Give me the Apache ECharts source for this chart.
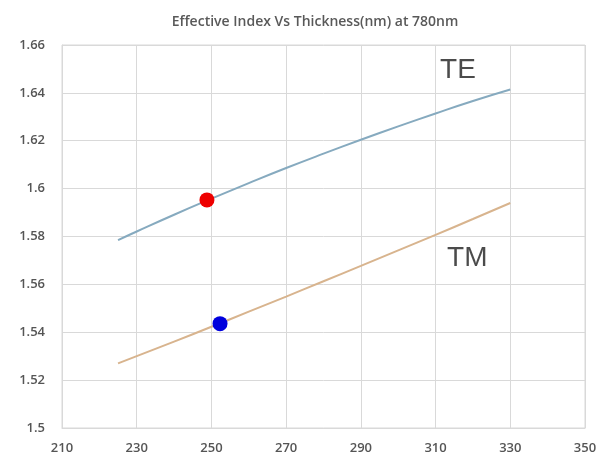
<!DOCTYPE html>
<html>
<head>
<meta charset="utf-8">
<script src="https://cdn.jsdelivr.net/npm/echarts@6/dist/echarts.min.js"></script>
<style>
html,body{margin:0;padding:0;background:#fff;}
#chart{width:602px;height:457px;}
</style>
</head>
<body>
<div id="chart"></div>
<script>
const titleText = "Effective Index Vs Thickness(nm) at 780nm";
const thickness = [225, 230, 240, 250, 260, 270, 280, 290, 300, 310, 320, 330];
const teIndex = [1.5785, 1.5821, 1.5891, 1.5958, 1.6023, 1.6086, 1.6146, 1.6204, 1.626, 1.6314, 1.6366, 1.6414];
const tmIndex = [1.527, 1.530, 1.5361, 1.5423, 1.5486, 1.5549, 1.5613, 1.5677, 1.5742, 1.5807, 1.5873, 1.594];
const teMarker = [248.8, 1.5953];
const tmMarker = [252.3, 1.5436];
const curveLabels = [
  { name: "TE", pos: [316, 1.6495] },
  { name: "TM", pos: [318.5, 1.5708] }
];

const chart = echarts.init(document.getElementById('chart'), null, { renderer: 'canvas' });
const axisFont = { color: '#555555', fontSize: 13, fontFamily: 'Open Sans, Liberation Sans, sans-serif', fontWeight: 600 };

chart.setOption({
  animation: false,
  backgroundColor: '#fff',
  title: {
    text: titleText,
    left: 310, textAlign: 'center',
    top: 10,
    textStyle: { color: '#595959', fontSize: 14, fontWeight: 600, fontFamily: 'Open Sans, Liberation Sans, sans-serif' }
  },
  grid: { left: 62, right: 17, top: 45, bottom: 29, show: true, borderColor: '#d9d9d9', borderWidth: 1 },
  xAxis: {
    type: 'value', min: 210, max: 350, interval: 20,
    axisLine: { show: true, lineStyle: { color: '#d9d9d9' } },
    axisTick: { show: false },
    axisLabel: Object.assign({ margin: 14 }, axisFont),
    splitLine: { show: true, lineStyle: { color: '#d9d9d9' } }
  },
  yAxis: {
    type: 'value', min: 1.5, max: 1.66, interval: 0.02,
    axisLine: { show: true, lineStyle: { color: '#d9d9d9' } },
    axisTick: { show: false },
    axisLabel: Object.assign({ margin: 17, formatter: v => String(+v.toFixed(2)) }, axisFont),
    splitLine: { show: true, lineStyle: { color: '#d9d9d9' } }
  },
  series: [
    {
      name: 'TE', type: 'line', smooth: true, showSymbol: false,
      data: thickness.map((t, i) => [t, teIndex[i]]),
      lineStyle: { color: '#86aabf', width: 2 }
    },
    {
      name: 'TM', type: 'line', smooth: true, showSymbol: false,
      data: thickness.map((t, i) => [t, tmIndex[i]]),
      lineStyle: { color: '#d8b48e', width: 2 }
    },
    {
      type: 'scatter', symbolSize: 15, z: 5,
      data: [
        { value: teMarker, itemStyle: { color: '#ee0000', opacity: 1 } },
        { value: tmMarker, itemStyle: { color: '#0000dd', opacity: 1 } }
      ]
    },
    {
      type: 'scatter', symbolSize: 0, silent: true,
      data: curveLabels.map(l => ({ value: l.pos, name: l.name })),
      label: {
        show: true, position: 'inside', formatter: p => p.name,
        color: '#1e1e1e', fontSize: 28, fontFamily: 'Liberation Sans, Arial, sans-serif'
      }
    }
  ]
});
</script>
</body>
</html>
